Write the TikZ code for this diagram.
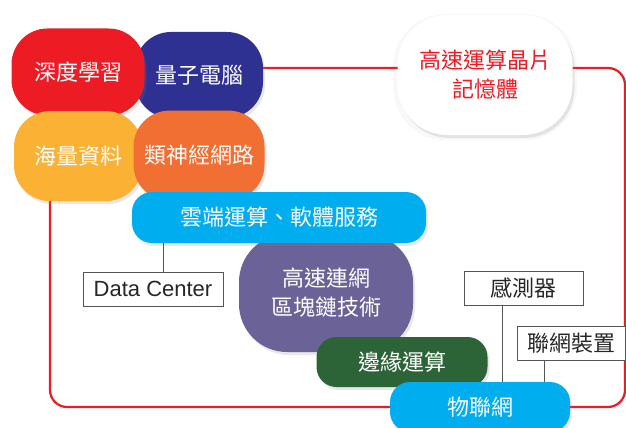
\documentclass[tikz,border=0pt]{standalone}
\usepackage{fontspec}
\setmainfont{Liberation Sans}
\newfontfamily\cjk{Noto Sans CJK TC}
\usepackage{xcolor}
\usepackage{tikz}
\usetikzlibrary{shadows}
\usetikzlibrary{positioning}

\definecolor{mred}{RGB}{237,28,36}
\definecolor{mnavy}{RGB}{46,49,146}
\definecolor{myellow}{RGB}{251,178,52}
\definecolor{morange}{RGB}{242,111,51}
\definecolor{mcyan}{RGB}{0,174,239}
\definecolor{mpurple}{RGB}{107,99,151}
\definecolor{mgreen}{RGB}{45,100,55}
\definecolor{mgray}{RGB}{85,85,85}

\begin{document}
\begin{tikzpicture}[x=1pt, y=-1pt, semithick]
 \tikzstyle{blob}=[inner sep=0pt, align=center, text=white, font=\cjk\fontsize{22}{29}\selectfont,
   drop shadow={opacity=0.18, shadow xshift=2pt, shadow yshift=-3pt}]
 \tikzstyle{tag}=[draw=mgray, thin, fill=white, inner sep=0pt, minimum height=34pt, text=black!85,
   font=\cjk\fontsize{22}{26}\selectfont]
 \tikzstyle{conn}=[draw=mgray, thin]
 \tikzstyle{frame}=[draw=mred, line width=2.2pt, rounded corners=17pt]
 \useasboundingbox (0,0) rectangle (626,428);
 % red frame behind everything
 \path[frame] (50,68) rectangle (625,407);
 % top left cluster
 \node[blob, fill=mnavy, minimum width=128pt, minimum height=86pt, rounded corners=36pt] (quantum) at (199,75) {量子電腦};
 \node[blob, fill=mred, minimum width=133pt, minimum height=87pt, rounded corners=36pt] (deep) at (78,72) {深度學習};
 \node[blob, fill=myellow, minimum width=128pt, minimum height=90pt, rounded corners=36pt] (bigdata) [below=-5pt of deep] {海量資料};
 \node[blob, fill=morange, minimum width=131pt, minimum height=90pt, rounded corners=36pt] (neural) [below=-8pt of quantum] {類神經網路};
 % memory chip
 \node[blob, fill=white, text=mred, minimum width=175pt, minimum height=120pt, rounded corners=50pt,
   drop shadow={opacity=0.06, shadow xshift=0pt, shadow yshift=-2pt, shadow scale=1.05}] (chip) at (485,75) {高速運算晶片\\記憶體};
 % middle
 \node[blob, fill=mpurple, minimum width=174pt, minimum height=118pt, rounded corners=48pt] (block) at (326,293) {高速連網\\區塊鏈技術};
 \node[blob, fill=mcyan, minimum width=294pt, minimum height=51pt, rounded corners=20pt] (cloud) at (279,217.5) {雲端運算、軟體服務};
 \node[blob, fill=mgreen, minimum width=171pt, minimum height=50pt, rounded corners=20pt] (edge) at (402,362) {邊緣運算};
 \node[blob, fill=mcyan, minimum width=180pt, minimum height=50pt, rounded corners=20pt] (iot) at (480,407) {物聯網};
 % labels
 \node[tag, minimum width=140pt, font=\fontsize{22}{26}\selectfont] (dc) at (153,289) {Data Center};
 \node[tag, minimum width=119pt] (sensor) at (523.5,288.5) {感測器};
 \node[tag, minimum width=108pt] (device) at (571,343) {聯網裝置};
 \path
   ([xshift=10pt]dc.north) edge[conn] ([xshift=10pt]dc.north |- cloud.south)
   ([xshift=-21pt]sensor.south) edge[conn] ([xshift=-21pt]sensor.south |- iot.north)
   ([xshift=-27pt]device.south) edge[conn] ([xshift=-27pt]device.south |- iot.north);
\end{tikzpicture}
\end{document}
